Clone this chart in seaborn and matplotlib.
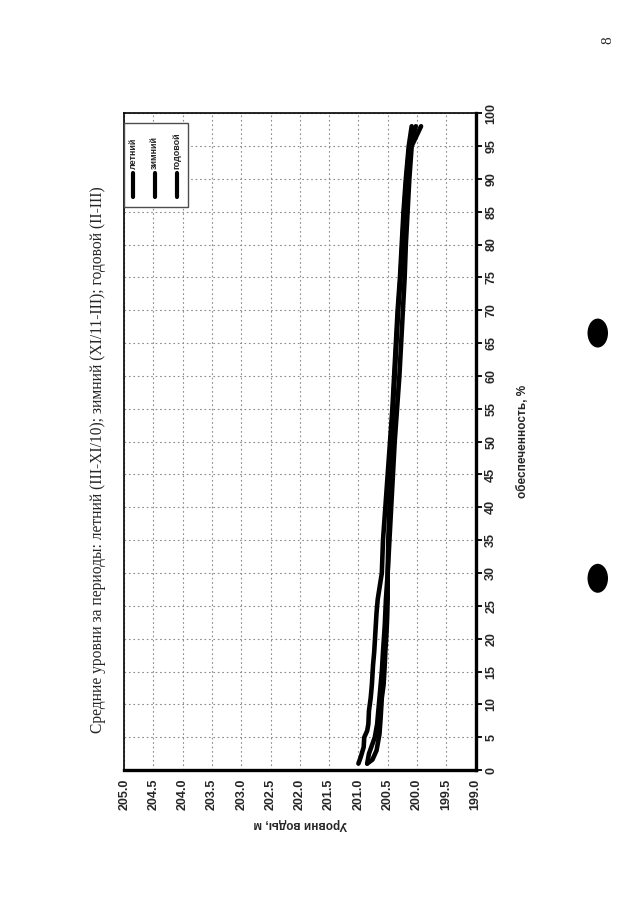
import numpy as np
import pandas as pd
import matplotlib
matplotlib.use("Agg")
import matplotlib.pyplot as plt
import seaborn as sns
from matplotlib.patches import Rectangle, Circle
from matplotlib.lines import Line2D

# --- data ---
series_names = ["летний", "зимний", "годовой"]

pct_summer = [1, 2, 3.5, 5, 6, 7, 9, 11, 13, 16, 18, 21, 24, 26, 30, 35, 40, 45, 50,
              55, 60, 65, 70, 75, 80, 85, 90, 95, 98]
lvl_summer = [201.00, 200.96, 200.91, 200.90, 200.85, 200.83, 200.82, 200.79, 200.77,
              200.75, 200.73, 200.71, 200.69, 200.67, 200.60, 200.58, 200.54, 200.50,
              200.46, 200.42, 200.39, 200.36, 200.33, 200.29, 200.26, 200.23, 200.19,
              200.14, 200.09]

pct_winter = [1, 1.6, 3, 4, 5.5, 8, 11, 13, 16, 18, 21, 23, 26, 30, 35, 40, 45, 50,
              55, 60, 65, 70, 75, 80, 85, 90, 95, 98]
lvl_winter = [200.85, 200.76, 200.69, 200.67, 200.64, 200.62, 200.60, 200.57, 200.55,
              200.54, 200.52, 200.51, 200.50, 200.50, 200.49, 200.47, 200.45, 200.44,
              200.41, 200.38, 200.35, 200.32, 200.28, 200.25, 200.22, 200.18, 200.13,
              200.02]

pct_year = [1, 2.5, 3.5, 5, 7, 9, 12, 15, 18, 22, 26, 30, 35, 40, 45, 50, 55, 60, 65,
            70, 75, 80, 85, 90, 95, 98]
lvl_year = [200.85, 200.82, 200.78, 200.72, 200.68, 200.66, 200.63, 200.60, 200.58,
            200.55, 200.53, 200.50, 200.47, 200.44, 200.41, 200.38, 200.34, 200.30,
            200.27, 200.24, 200.21, 200.19, 200.16, 200.13, 200.09, 199.93]

level_ticks = np.arange(199.0, 205.01, 0.5)
pct_ticks = np.arange(0, 101, 5)

title = "Средние уровни за периоды: летний (III-XI/10); зимний (XI/11-III); годовой (II-III)"

df = pd.concat([
    pd.DataFrame({"level": lvl_summer, "pct": pct_summer, "series": series_names[0]}),
    pd.DataFrame({"level": lvl_winter, "pct": pct_winter, "series": series_names[1]}),
    pd.DataFrame({"level": lvl_year, "pct": pct_year, "series": series_names[2]}),
], ignore_index=True)

# --- style ---
sns.set_style("white")
plt.rcParams["font.family"] = ["Liberation Sans", "DejaVu Sans"]

fig = plt.figure(figsize=(6.4, 9.05), dpi=100)
ax = fig.add_axes([0.194, 0.149, 0.549, 0.726])

sns.lineplot(data=df, x="level", y="pct", hue="series", palette=["black"] * 3,
             sort=False, estimator=None, lw=3.3, legend=False, ax=ax)

ax.set_xlim(205.0, 199.0)
ax.set_ylim(0, 100)
ax.set_xticks(level_ticks)
ax.set_xticklabels([f"{v:.1f}" for v in level_ticks], rotation=90,
                   fontweight="bold", fontsize=9)
ax.yaxis.tick_right()
ax.yaxis.set_label_position("right")
ax.set_yticks(pct_ticks)
ax.set_yticklabels([str(v) for v in pct_ticks], rotation=90, va="center",
                   fontweight="bold", fontsize=9)
ax.tick_params(axis="both", direction="out", length=4, width=1.3, color="black", pad=2)
ax.tick_params(axis="y", left=False, right=True, pad=3)

ax.set_xlabel("Уровни воды, м", rotation=180, fontweight="bold", fontsize=8.5, labelpad=6)
ax.set_ylabel("обеспеченность, %", rotation=90, fontweight="bold", fontsize=8.5, labelpad=14)

ax.grid(True, color="0.55", linestyle=(0, (1.5, 2.5)), linewidth=0.8)
for side, lw in [("bottom", 2.4), ("right", 2.4), ("top", 1.2), ("left", 1.2)]:
    ax.spines[side].set_visible(True)
    ax.spines[side].set_color("black")
    ax.spines[side].set_linewidth(lw)

# legend drawn by hand, rotated like the rest of the page
ax.add_patch(Rectangle((0.0, 0.857), 0.182, 0.128, transform=ax.transAxes,
                       facecolor="white", edgecolor="0.3", lw=1, zorder=5))
for xf, name in zip([0.026, 0.087, 0.15], series_names):
    ax.add_line(Line2D([xf, xf], [0.872, 0.909], transform=ax.transAxes,
                       color="black", lw=3, zorder=6))
    ax.text(xf, 0.915, name, transform=ax.transAxes, rotation=90, ha="center",
            va="bottom", fontsize=6.5, fontweight="bold", zorder=6)

# page decorations: title, page number, punch holes
fig.text(0.153, 0.492, title, rotation=90, ha="center", va="center",
         family=["Liberation Serif", "DejaVu Serif"], fontsize=11.2)
fig.text(0.95, 0.956, "8", rotation=90, ha="center", va="center",
         family=["Liberation Serif", "DejaVu Serif"], fontsize=11)
for yy in [0.632, 0.361]:
    fig.patches.append(Circle((0.934, yy), 0.016, transform=fig.transFigure,
                              facecolor="black", edgecolor="none"))

fig.savefig("out.png", dpi=100)
